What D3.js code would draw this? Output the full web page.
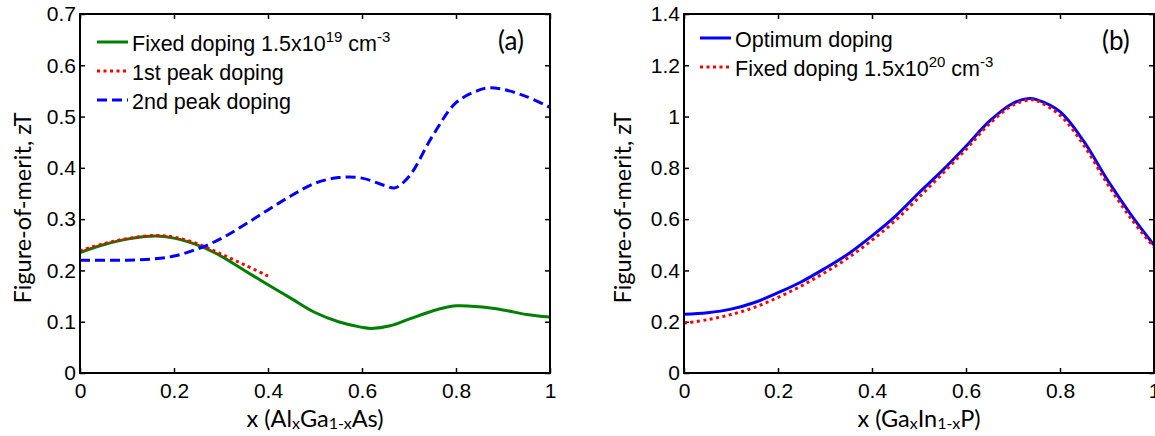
<!DOCTYPE html>
<html>
<head>
<meta charset="utf-8">
<script src="https://cdn.jsdelivr.net/npm/d3@7"></script>
<style>
  body { margin: 0; background: #fff; }
  .tick text { font-family: "Liberation Sans", Arial, sans-serif; font-size: 21px; fill: #000; }
  .tick line { stroke: #000; stroke-width: 1.5; }
  .domain { display: none; }
  .ttl { font-family: Lato, "Open Sans", sans-serif; fill: #000; }
  .leg { font-family: "Liberation Sans", Arial, sans-serif; font-size: 21.5px; fill: #000; }
</style>
</head>
<body>
<svg id="chart"></svg>
<script>
    // panel (a) : AlxGa1-xAs
    var aFixedX = [0, 0.05, 0.1, 0.16, 0.2, 0.26, 0.3, 0.35, 0.4, 0.45, 0.5, 0.55, 0.6, 0.62, 0.66, 0.7, 0.75, 0.8, 0.85, 0.9, 0.95, 1];
    var aFixedY = [0.235, 0.25, 0.261, 0.267, 0.263, 0.246, 0.228, 0.2, 0.172, 0.145, 0.118, 0.1, 0.089, 0.087, 0.092, 0.105, 0.121, 0.131, 0.129, 0.123, 0.114, 0.109];
    var aPeak1X = [0, 0.05, 0.1, 0.16, 0.2, 0.25, 0.3, 0.35, 0.4];
    var aPeak1Y = [0.238, 0.252, 0.262, 0.268, 0.265, 0.252, 0.232, 0.211, 0.189];
    var aPeak2X = [0, 0.05, 0.1, 0.15, 0.2, 0.25, 0.3, 0.35, 0.4, 0.45, 0.5, 0.55, 0.6, 0.65, 0.67, 0.7, 0.75, 0.8, 0.85, 0.87, 0.9, 0.95, 1];
    var aPeak2Y = [0.22, 0.22, 0.22, 0.222, 0.228, 0.242, 0.262, 0.289, 0.318, 0.346, 0.37, 0.381, 0.38, 0.365, 0.361, 0.383, 0.462, 0.527, 0.552, 0.556, 0.553, 0.539, 0.518];

    // panel (b) : GaxIn1-xP
    var bX = [0, 0.05, 0.1, 0.15, 0.2, 0.25, 0.3, 0.35, 0.4, 0.45, 0.5, 0.55, 0.6, 0.65, 0.7, 0.735, 0.75, 0.8, 0.85, 0.9, 0.95, 1];
    var bOptY = [0.229, 0.235, 0.249, 0.275, 0.313, 0.356, 0.408, 0.465, 0.535, 0.612, 0.703, 0.79, 0.884, 0.982, 1.052, 1.07, 1.066, 1.019, 0.905, 0.755, 0.62, 0.499];
    var bFixY = [0.194, 0.208, 0.228, 0.256, 0.295, 0.34, 0.392, 0.45, 0.518, 0.595, 0.685, 0.778, 0.872, 0.972, 1.045, 1.065, 1.062, 1.005, 0.89, 0.74, 0.605, 0.49];

    var xTicks = [0, 0.2, 0.4, 0.6, 0.8, 1];
    var aYTicks = [0, 0.1, 0.2, 0.3, 0.4, 0.5, 0.6, 0.7];
    var bYTicks = [0, 0.2, 0.4, 0.6, 0.8, 1, 1.2, 1.4];

    var width = 1155;
    var height = 436;
    var plotTop = 14, plotBottom = 373;

    var chart = d3.select('#chart')
        .attr('width', width)
        .attr('height', height);

    var fmt = function(d) { return String(+d.toFixed(1)); };

    function zip(xs, ys) {
        return xs.map(function(x, i) { return { x: x, y: ys[i] }; });
    }

    function panel(left, right, ymax, yTicks, series, legend, tag, xTitle, yTitleX) {
        var x = d3.scaleLinear().domain([0, 1]).range([left, right]);
        var y = d3.scaleLinear().domain([0, ymax]).range([plotBottom, plotTop]);
        var g = chart.append('g');

        var line = d3.line()
            .x(function(d){ return x(d.x); })
            .y(function(d){ return y(d.y); })
            .curve(d3.curveCatmullRom);

        // axes, ticks pointing inwards on all four sides
        g.append('g').attr('transform', 'translate(0,' + plotBottom + ')')
            .call(d3.axisBottom(x).tickValues(xTicks).tickFormat(fmt).tickSizeInner(-5).tickSizeOuter(0).tickPadding(10));
        g.append('g').attr('transform', 'translate(0,' + plotTop + ')')
            .call(d3.axisTop(x).tickValues(xTicks).tickFormat('').tickSizeInner(-5).tickSizeOuter(0));
        g.append('g').attr('transform', 'translate(' + left + ',0)')
            .call(d3.axisLeft(y).tickValues(yTicks).tickFormat(fmt).tickSizeInner(-5).tickSizeOuter(0).tickPadding(4));
        g.append('g').attr('transform', 'translate(' + right + ',0)')
            .call(d3.axisRight(y).tickValues(yTicks).tickFormat('').tickSizeInner(-5).tickSizeOuter(0));

        series.forEach(function(s) {
            g.append('path')
                .datum(zip(s.xs, s.ys))
                .attr('fill', 'none')
                .attr('stroke', s.color)
                .attr('stroke-width', 3)
                .attr('stroke-dasharray', s.dash)
                .attr('d', line);
        });

        g.append('rect')
            .attr('x', left).attr('y', plotTop)
            .attr('width', right - left).attr('height', plotBottom - plotTop)
            .attr('fill', 'none').attr('stroke', '#000').attr('stroke-width', 2);

        // legend
        legend.rows.forEach(function(r, i) {
            var by = legend.y + i * 29;
            var s = series[r.s];
            g.append('line')
                .attr('x1', legend.x).attr('x2', legend.x + 31)
                .attr('y1', by - 9).attr('y2', by - 9)
                .attr('stroke', s.color).attr('stroke-width', 3)
                .attr('stroke-dasharray', s.dash);
            var t = g.append('text').attr('class', 'leg')
                .attr('x', legend.x + 35).attr('y', by);
            r.parts.forEach(function(p) {
                var ts = t.append('tspan').text(p[0]);
                if (p[1]) ts.attr('font-size', 15).attr('dy', -9);
                else if (p[2]) ts.attr('dy', 9);
            });
        });

        g.append('text').attr('class', 'ttl')
            .attr('x', right - 52).attr('y', 50)
            .attr('font-family', '"Open Sans", sans-serif')
            .attr('font-size', 26)
            .text(tag);

        // x title with subscripts
        var xt = g.append('text').attr('class', 'ttl')
            .attr('x', (left + right) / 2).attr('y', 427)
            .attr('text-anchor', 'middle').attr('font-size', 23.5);
        xTitle.forEach(function(p) {
            xt.append('tspan').text(p[0])
                .attr('font-size', p[1] ? 16 : 23.5)
                .attr('baseline-shift', p[1] ? -2 : 0);
        });

        g.append('text').attr('class', 'ttl')
            .attr('transform', 'translate(' + yTitleX + ',208) rotate(-90)')
            .attr('text-anchor', 'middle').attr('font-size', 23.5)
            .text('Figure-of-merit, zT');
    }

    panel(80, 550, 0.7, aYTicks,
        [
            { xs: aFixedX, ys: aFixedY, color: '#008000', dash: null },
            { xs: aPeak1X, ys: aPeak1Y, color: '#ff0000', dash: '3,3.5' },
            { xs: aPeak2X, ys: aPeak2Y, color: '#0000ff', dash: '10,5' }
        ],
        { x: 97, y: 51, rows: [
            { s: 0, parts: [['Fixed doping 1.5x10'], ['19', 1], [' cm', 0, 1], ['-3', 1]] },
            { s: 1, parts: [['1st peak doping']] },
            { s: 2, parts: [['2nd peak doping']] }
        ] },
        '(a)',
        [['x (Al'], ['x', 1], ['Ga'], ['1-x', 1], ['As)']],
        31);

    panel(684, 1154, 1.4, bYTicks,
        [
            { xs: bX, ys: bOptY, color: '#0000ff', dash: null },
            { xs: bX, ys: bFixY, color: '#ff0000', dash: '3,3.5' }
        ],
        { x: 700, y: 47, rows: [
            { s: 0, parts: [['Optimum doping']] },
            { s: 1, parts: [['Fixed doping 1.5x10'], ['20', 1], [' cm', 0, 1], ['-3', 1]] }
        ] },
        '(b)',
        [['x (Ga'], ['x', 1], ['In'], ['1-x', 1], ['P)']],
        631);
</script>
</body>
</html>
